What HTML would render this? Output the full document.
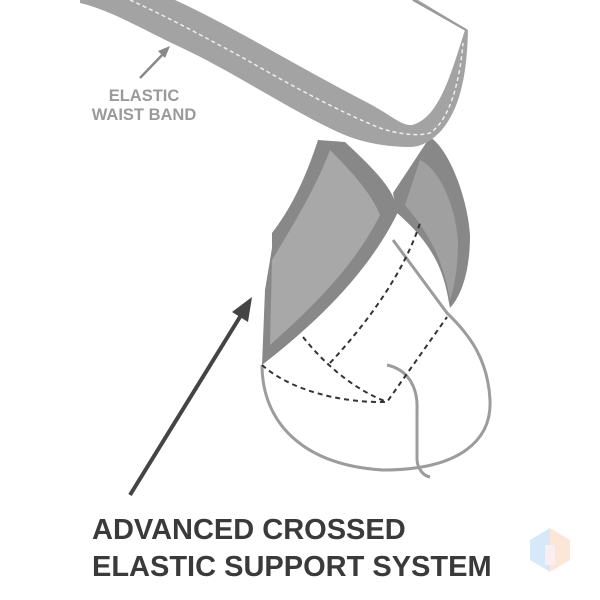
<!DOCTYPE html>
<html><head><style>body{margin:0;background:#fff}svg{display:block}</style></head><body>
<svg width="600" height="600" viewBox="0 0 600 600" xmlns="http://www.w3.org/2000/svg" font-family="Liberation Sans, sans-serif">
<rect width="600" height="600" fill="#fff"/>
<!-- left strap -->
<path d="M318,140 L345,142 C375,170 395,190 398,212 C370,270 320,320 262,365 L265,290 L272,248 L272,233 C290,210 305,180 318,140 Z" fill="#888"/>
<path d="M330,150 C355,175 372,195 380,215 C355,265 315,305 270,345 L272,260 C290,230 315,190 330,150 Z" fill="#a8a8a8"/>
<!-- right strap -->
<path d="M393,193 L430,137 C450,150 468,200 470,235 C470,270 462,295 450,308 C445,280 440,250 397,213 Z" fill="#888"/>
<path d="M420,160 C440,170 455,205 458,240 C458,265 455,285 450,300 C445,270 435,240 405,205 Z" fill="#a0a0a0"/>
<!-- waistband -->
<path d="M175,0 C230,25 300,68 370,104 C392,116 402,126 412,125 C440,118 452,70 465,30 L412,0 L418,0 L468,30 C467,75 460,110 440,132 C430,142 420,147 410,147 C385,147 360,142 340,133 C290,110 230,70 180,47 C140,28 110,10 80,3 L80,0 Z" fill="#a3a3a3"/>
<path d="M466,30 L413,0" stroke="#999" stroke-width="2" fill="none"/>
<path d="M130,0 C170,18 210,40 247,60 C290,85 340,112 380,128 C400,135 420,136 430,133 C450,120 460,80 463,43" stroke="#eee" stroke-width="1.5" stroke-dasharray="4,3" fill="none"/>
<!-- pouch -->
<g fill="none" stroke="#9c9c9c" stroke-width="3">
<path d="M262,365 C262,420 300,465 383,470 C460,470 492,440 490,400 C488,360 470,335 447,313 L393,240"/>
<path d="M387,365 C410,370 418,390 417,410 L417,460 C418,470 424,476 430,477"/>
</g>
<g fill="none" stroke="#333" stroke-width="2" stroke-dasharray="5,4">
<path d="M262,365 C290,390 340,403 387,402 L447,317"/>
<path d="M303,337 C325,365 355,390 387,402"/>
<path d="M330,363 C370,320 405,270 420,223"/>
</g>
<!-- small arrow -->
<path d="M140,78 L166,51" stroke="#888" stroke-width="2.5"/>
<path d="M170,46 L158,51 L165,58 Z" fill="#888"/>
<text x="144" y="101" font-size="16.5" font-weight="bold" fill="#9a9a9a" text-anchor="middle">ELASTIC</text>
<text x="144" y="120" font-size="16.5" font-weight="bold" fill="#9a9a9a" text-anchor="middle">WAIST BAND</text>
<!-- big arrow -->
<path d="M130,495 L243,312" stroke="#444" stroke-width="4"/>
<path d="M252,297 L232,312 L248,322 Z" fill="#444"/>
<text x="92" y="539" font-size="29" font-weight="bold" fill="#3a3a3a">ADVANCED CROSSED</text>
<text x="92" y="576" font-size="29" font-weight="bold" fill="#3a3a3a">ELASTIC SUPPORT SYSTEM</text>
<!-- logo -->
<g opacity="0.35">
<path d="M530,540 L550,528 L550,572 L530,560 Z" fill="#8fc3ee"/>
<path d="M570,540 L550,528 L550,572 L570,560 Z" fill="#f7b889"/>
<path d="M545,545 L555,545 L555,565 L545,565 Z" fill="#f5d0d8"/>
</g>
</svg>
</body></html>
